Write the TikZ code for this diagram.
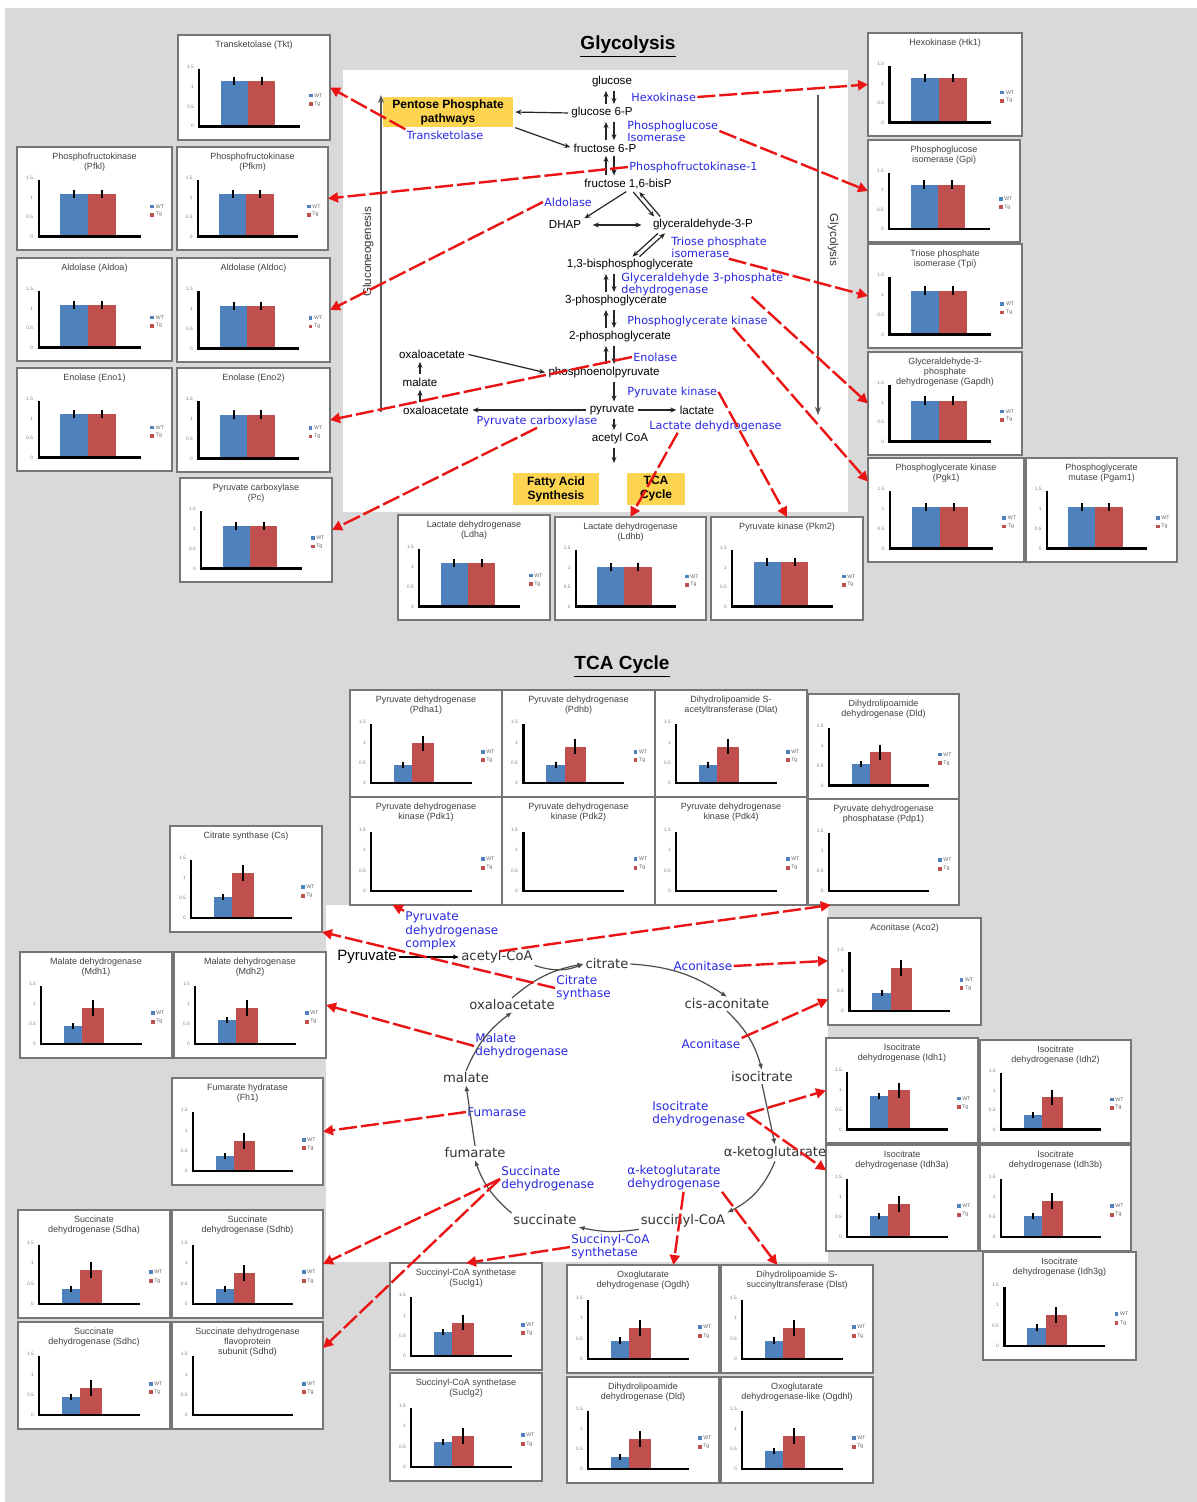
\documentclass[tikz,border=0pt]{standalone}
\usepackage{fontspec}
\setmainfont{Liberation Sans}
\newfontfamily\widefont{DejaVu Sans}
\usetikzlibrary{arrows.meta,calc}
\definecolor{bg}{RGB}{217,217,217}
\definecolor{frame}{RGB}{118,118,118}
\definecolor{enz}{RGB}{40,40,225}
\definecolor{hi}{RGB}{252,212,80}
\definecolor{wtb}{RGB}{79,129,189}
\definecolor{tgr}{RGB}{192,80,77}
\definecolor{link}{RGB}{235,20,20}

% bar layouts: glycolysis (wide, equal) and TCA (narrow)
\newcommand{\glystyle}{\def\barL{0.28}\def\barM{0.46}\def\barR{0.64}\def\errB{0.07}\def\errR{0.07}}
\newcommand{\tcastyle}{\def\barL{0.29}\def\barM{0.41}\def\barR{0.55}\def\errB{0.05}\def\errR{0.13}}
\newcommand{\nostyle}{\def\errB{0}\def\errR{0}}

% name, left, top, width, height, title, WT value, Tg value
\newcommand{\chart}[8]{%
  \pgfmathsetmacro{\chw}{#4*0.5}\pgfmathsetmacro{\chh}{#5*0.5}%
  \node[chartbox,minimum width=\chw pt,minimum height=\chh pt] (#1) at (#2,#3) {};
  \begin{scope}[shift={(#1.north west)},x=\chw pt,y=-\chh pt]
    \node[charttitle] at (0.5,0.05) {#6};
    \fill[wtb] (\barL,0.87) rectangle (\barM,{0.87-0.57*#7});
    \fill[tgr] (\barM,0.87) rectangle (\barR,{0.87-0.57*#8});
    \draw[errbar] ({(\barL+\barM)/2},{0.87-0.57*(#7+\errB)}) -- ++(0,{1.14*\errB});
    \draw[errbar] ({(\barM+\barR)/2},{0.87-0.57*(#8+\errR)}) -- ++(0,{1.14*\errR});
    \foreach \k/\lb in {0/0,1/0.5,2/1,3/1.5}
      \node[ticklab] at (0.11,{0.87-0.19*\k}) {\lb};
    \draw[axisline] (0.14,0.32) -- (0.14,0.87) -- (0.80,0.87);
    \fill[wtb] (0.86,0.56) rectangle ++(0.025,0.035);
    \fill[tgr] (0.86,0.64) rectangle ++(0.025,0.035);
    \node[legtext] at (0.89,0.575) {WT};
    \node[legtext] at (0.89,0.655) {Tg};
  \end{scope}}

\begin{document}
\begin{tikzpicture}[x=0.5pt,y=-0.5pt,
  chartbox/.style={draw=frame,line width=1.1pt,fill=white,inner sep=0pt,outer sep=0pt,anchor=north west},
  charttitle/.style={anchor=north,align=center,font=\fontsize{4.5}{5}\selectfont,text=black!75,inner sep=0pt},
  ticklab/.style={anchor=east,font=\fontsize{2.4}{2.7}\selectfont,text=black!50,inner sep=0.3pt},
  legtext/.style={anchor=west,font=\fontsize{2.6}{3}\selectfont,text=black!60,inner sep=0.3pt},
  errbar/.style={line width=1pt,black},
  axisline/.style={line width=1.2pt,black},
  heading/.style={font=\bfseries\fontsize{9.5}{11}\selectfont},
  metab/.style={font=\fontsize{5.8}{6.5}\selectfont,inner sep=0.6pt},
  tmetab/.style={font=\widefont\fontsize{6.6}{7.5}\selectfont,text=black!80,inner sep=0.8pt},
  enzyme/.style={font=\widefont\fontsize{5.6}{6}\selectfont,text=enz,inner sep=0.5pt,align=left},
  tenzyme/.style={enzyme,font=\widefont\fontsize{6}{6.6}\selectfont},
  hibox/.style={fill=hi,font=\bfseries\fontsize{6}{7}\selectfont,align=center,inner sep=1pt},
  blk/.style={-{Stealth[length=3pt,width=2.5pt]},line width=0.6pt,black!85,shorten >=1pt,shorten <=1pt},
  tblk/.style={-{Latex[length=3pt,width=2.5pt]},line width=0.6pt,black!70},
  sidearr/.style={-{Stealth[length=4pt]},line width=0.8pt,black!65},
  redlink/.style={draw=link,line width=1.2pt,dash pattern=on 9pt off 2pt,-{Triangle[length=5pt,width=5pt]}}]

  \useasboundingbox (0,0) rectangle (1197,1502);
  \fill[white] (0,0) rectangle (1197,1502);
  \fill[bg] (5,8) rectangle (1197,1502);
  \fill[white] (343,70) rectangle (848,512);
  \fill[white] (326,905) rectangle (828,1262);

  \node[heading] (tglyc) at (628,47) {\underline{Glycolysis}};
  \node[heading] (ttca) at (622,667) {\underline{TCA Cycle}};

  % glycolysis charts
  \glystyle
  \chart{gT}{178}{35}{152}{105}{Transketolase (Tkt)}{0.76}{0.76}
  \chart{gL2a}{17}{147}{155}{103}{Phosphofructokinase\\(Pfkl)}{0.72}{0.72}
  \chart{gL2b}{177}{147}{151}{103}{Phosphofructokinase\\(Pfkm)}{0.72}{0.72}
  \chart{gL3a}{17}{258}{155}{103}{Aldolase (Aldoa)}{0.72}{0.72}
  \chart{gL3b}{177}{258}{153}{104}{Aldolase (Aldoc)}{0.72}{0.72}
  \chart{gL4a}{17}{368}{155}{103}{Enolase (Eno1)}{0.74}{0.74}
  \chart{gL4b}{177}{368}{153}{104}{Enolase (Eno2)}{0.74}{0.74}
  \chart{gL5}{180}{478}{152}{104}{Pyruvate carboxylase\\(Pc)}{0.72}{0.72}
  \chart{gR1}{868}{33}{154}{103}{Hexokinase (Hk1)}{0.76}{0.76}
  \chart{gR2}{868}{140}{152}{102}{Phosphoglucose\\isomerase (Gpi)}{0.76}{0.76}
  \chart{gR3}{868}{244}{154}{104}{Triose phosphate\\isomerase (Tpi)}{0.74}{0.74}
  \chart{gR4}{868}{352}{154}{103}{Glyceraldehyde-3-\\phosphate\\dehydrogenase (Gapdh)}{0.7}{0.7}
  \chart{gR5}{868}{458}{156}{104}{Phosphoglycerate kinase\\(Pgk1)}{0.7}{0.7}
  \chart{gR6}{1026}{458}{151}{104}{Phosphoglycerate\\mutase (Pgam1)}{0.7}{0.7}
  \chart{gB1}{398}{515}{152}{105}{Lactate dehydrogenase\\(Ldha)}{0.72}{0.72}
  \chart{gB2}{555}{517}{151}{103}{Lactate dehydrogenase\\(Ldhb)}{0.68}{0.68}
  \chart{gB3}{711}{517}{152}{103}{Pyruvate kinase (Pkm2)}{0.76}{0.76}

  % TCA charts
  \tcastyle
  \chart{tG11}{350}{690}{152}{107}{Pyruvate dehydrogenase\\(Pdha1)}{0.3}{0.65}
  \chart{tG12}{502}{690}{153}{107}{Pyruvate dehydrogenase\\(Pdhb)}{0.3}{0.6}
  \chart{tG13}{655}{690}{152}{107}{Dihydrolipoamide S-\\acetyltransferase (Dlat)}{0.3}{0.6}
  \chart{tG14}{808}{694}{151}{105}{Dihydrolipoamide\\dehydrogenase (Dld)}{0.35}{0.55}
  \chart{tL1}{170}{826}{152}{106}{Citrate synthase (Cs)}{0.35}{0.75}
  \chart{tL2a}{20}{952}{152}{106}{Malate dehydrogenase\\(Mdh1)}{0.3}{0.6}
  \chart{tL2b}{174}{952}{152}{106}{Malate dehydrogenase\\(Mdh2)}{0.4}{0.6}
  \chart{tL3}{172}{1078}{151}{107}{Fumarate hydratase\\(Fh1)}{0.25}{0.5}
  \chart{tL4a}{18}{1210}{152}{108}{Succinate\\dehydrogenase (Sdha)}{0.25}{0.55}
  \chart{tL4b}{172}{1210}{151}{108}{Succinate\\dehydrogenase (Sdhb)}{0.25}{0.5}
  \chart{tL5a}{18}{1322}{152}{107}{Succinate\\dehydrogenase (Sdhc)}{0.3}{0.45}
  \chart{tR1}{828}{918}{153}{107}{Aconitase (Aco2)}{0.3}{0.7}
  \chart{tR2a}{826}{1038}{152}{105}{Isocitrate\\dehydrogenase (Idh1)}{0.55}{0.65}
  \chart{tR2b}{980}{1040}{151}{103}{Isocitrate\\dehydrogenase (Idh2)}{0.25}{0.55}
  \chart{tR3a}{826}{1145}{152}{106}{Isocitrate\\dehydrogenase (Idh3a)}{0.35}{0.55}
  \chart{tR3b}{980}{1145}{151}{106}{Isocitrate\\dehydrogenase (Idh3b)}{0.35}{0.6}
  \chart{tR4}{983}{1252}{153}{108}{Isocitrate\\dehydrogenase (Idh3g)}{0.3}{0.5}
  \chart{tB1a}{390}{1263}{152}{107}{Succinyl-CoA synthetase\\(Suclg1)}{0.4}{0.55}
  \chart{tB1b}{390}{1373}{152}{108}{Succinyl-CoA synthetase\\(Suclg2)}{0.4}{0.5}
  \chart{tB2a}{567}{1265}{152}{108}{Oxoglutarate\\dehydrogenase (Ogdh)}{0.3}{0.5}
  \chart{tB2b}{721}{1265}{152}{108}{Dihydrolipoamide S-\\succinyltransferase (Dlst)}{0.3}{0.5}
  \chart{tB3a}{567}{1377}{152}{106}{Dihydrolipoamide\\dehydrogenase (Dld)}{0.2}{0.5}
  \chart{tB3b}{721}{1377}{152}{106}{Oxoglutarate\\dehydrogenase-like (Ogdhl)}{0.3}{0.55}
  \nostyle
  \chart{tG21}{350}{797}{152}{108}{Pyruvate dehydrogenase\\kinase (Pdk1)}{0}{0}
  \chart{tG22}{502}{797}{153}{108}{Pyruvate dehydrogenase\\kinase (Pdk2)}{0}{0}
  \chart{tG23}{655}{797}{152}{108}{Pyruvate dehydrogenase\\kinase (Pdk4)}{0}{0}
  \chart{tG24}{808}{799}{151}{106}{Pyruvate dehydrogenase\\phosphatase (Pdp1)}{0}{0}
  \chart{tL5b}{172}{1322}{151}{107}{Succinate dehydrogenase\\flavoprotein\\subunit (Sdhd)}{0}{0}

  % glycolysis pathway
  \node[metab] (glc) at (612,82) {glucose};
  \node[metab] (g6p) at (602,113) {glucose 6-P};
  \node[metab] (f6p) at (605,148) {fructose 6-P};
  \node[metab] (fbp) at (628,184) {fructose 1,6-bisP};
  \node[metab] (dhap) at (565,225) {DHAP};
  \node[metab] (gap) at (703,225) {glyceraldehyde-3-P};
  \node[metab] (bpg) at (630,265) {1,3-bisphosphoglycerate};
  \node[metab] (pg3) at (616,301) {3-phosphoglycerate};
  \node[metab] (pg2) at (620,337) {2-phosphoglycerate};
  \node[metab] (pep) at (604,373) {phosphoenolpyruvate};
  \node[metab] (pyr) at (612,410) {pyruvate};
  \node[metab] (lac) at (697,410) {lactate};
  \node[metab] (aca) at (620,439) {acetyl CoA};
  \node[metab] (oaa1) at (432,354) {oxaloacetate};
  \node[metab] (mal) at (420,382) {malate};
  \node[metab] (oaa2) at (436,410) {oxaloacetate};
  \node[hibox,minimum width=65pt,minimum height=12.5pt] (ppp) at (448,112) {Pentose Phosphate\\pathways};
  \node[hibox,minimum width=43pt,minimum height=16pt] (fas) at (556,489) {Fatty Acid\\Synthesis};
  \node[hibox,minimum width=29pt,minimum height=16pt] (tcab) at (656,489) {TCA\\Cycle};

  \node[enzyme,anchor=west] (hk) at (630,97) {Hexokinase};
  \node[enzyme,anchor=west] (pgi) at (626,131) {Phosphoglucose\\Isomerase};
  \node[enzyme,anchor=west] (pfk) at (628,167) {Phosphofructokinase-1};
  \node[enzyme] (tkt) at (445,135) {Transketolase};
  \node[enzyme] (ald) at (568,202) {Aldolase};
  \node[enzyme,anchor=west] (tpi) at (670,247) {Triose phosphate\\isomerase};
  \node[enzyme,anchor=west] (gapdh) at (620,284) {Glyceraldehyde 3-phosphate\\dehydrogenase};
  \node[enzyme,anchor=west] (pgk) at (626,321) {Phosphoglycerate kinase};
  \node[enzyme,anchor=west] (eno) at (632,357) {Enolase};
  \node[enzyme,anchor=west] (pk) at (626,392) {Pyruvate kinase};
  \node[enzyme] (pc) at (537,421) {Pyruvate carboxylase};
  \node[enzyme,anchor=west] (ldh) at (648,426) {Lactate dehydrogenase};

  \node[metab,rotate=90,text=black!80] (gneo) at (368,252) {Gluconeogenesis};
  \node[metab,rotate=-90,text=black!80] (glyl) at (833,240) {Glycolysis};
  \coordinate (gnlo) at (381,412);
  \coordinate (gnhi) at (381,95);
  \coordinate (gyhi) at (818,95);
  \coordinate (gylo) at (818,415);
  \draw[sidearr] (gnlo) -- (gnhi);
  \draw[sidearr] (gyhi) -- (gylo);

  \coordinate (upx) at (606,0);
  \coordinate (dnx) at (614,0);
  \foreach \a/\b in {glc/g6p,g6p/f6p,f6p/fbp,bpg/pg3,pg3/pg2,pg2/pep}{
    \draw[blk] (\b.north -| upx) -- (\a.south -| upx);
    \draw[blk] (\a.south -| dnx) -- (\b.north -| dnx);
  }
  \coordinate (acend) at (614,465);
  \draw[blk] (pep.south -| dnx) -- (pyr.north -| dnx);
  \draw[blk] (pyr.south -| dnx) -- (aca.north -| dnx);
  \draw[blk] (aca.south -| dnx) -- (acend);
  \draw[blk] (g6p.west) -- (ppp.east);
  \draw[blk] (ppp.south east) -- (f6p.west);
  \draw[blk] (fbp.south) -- (dhap.north east);
  \draw[blk] ($(fbp.south)+(4,0)$) -- ($(gap.north west)+(4,0)$);
  \draw[blk] ($(gap.north west)+(10,0)$) -- ($(fbp.south)+(10,0)$);
  \draw[blk,{Stealth[length=3pt,width=2.5pt]}-{Stealth[length=3pt,width=2.5pt]},shorten <=5pt,shorten >=5pt] (dhap.east) -- (gap.west);
  \draw[blk] ($(gap.south west)+(8,0)$) -- ($(bpg.north)+(1,0)$);
  \draw[blk] ($(bpg.north)+(8,0)$) -- ($(gap.south west)+(15,0)$);
  \draw[blk] (pyr.east) -- (lac.west);
  \draw[blk] (pyr.west) -- (oaa2.east);
  \draw[blk] (oaa1.east) -- (pep.west);
  \draw[blk] (oaa2.north -| mal.south) -- (mal.south);
  \draw[blk] (mal.north) -- (oaa1.south -| mal.north);

  % TCA pathway
  \node[tmetab,text=black,font=\fontsize{7.5}{8}\selectfont] (tpyr) at (367,957) {Pyruvate};
  \node[tmetab] (tacoa) at (497,957) {acetyl-CoA};
  \node[tmetab] (cit) at (607,964) {citrate};
  \node[tmetab] (cis) at (727,1004) {cis-aconitate};
  \node[tmetab] (iso) at (762,1077) {isocitrate};
  \node[tmetab] (akg) at (775,1153) {α-ketoglutarate};
  \node[tmetab] (sca) at (683,1221) {succinyl-CoA};
  \node[tmetab] (suc) at (545,1220) {succinate};
  \node[tmetab] (fum) at (475,1153) {fumarate};
  \node[tmetab] (tmal) at (466,1078) {malate};
  \node[tmetab] (toaa) at (512,1005) {oxaloacetate};

  \node[tenzyme,anchor=west] (pdh) at (404,931) {Pyruvate\\dehydrogenase\\complex};
  \node[tenzyme,anchor=west] (cs) at (555,988) {Citrate\\synthase};
  \node[tenzyme] (acn1) at (703,966) {Aconitase};
  \node[tenzyme] (acn2) at (711,1044) {Aconitase};
  \node[tenzyme,anchor=west] (idh) at (651,1114) {Isocitrate\\dehydrogenase};
  \node[tenzyme,anchor=west] (ogdh) at (626,1178) {α-ketoglutarate\\dehydrogenase};
  \node[tenzyme,anchor=west] (scs) at (570,1247) {Succinyl-CoA\\synthetase};
  \node[tenzyme,anchor=west] (sdh) at (500,1179) {Succinate\\dehydrogenase};
  \node[tenzyme,anchor=west] (fh) at (466,1112) {Fumarase};
  \node[tenzyme,anchor=west] (mdh) at (474,1046) {Malate\\dehydrogenase};

  \draw[tblk,line width=1pt,black] (tpyr.east) -- (tacoa.west);
  \draw[tblk] (tacoa.south east) to[bend right=20] (cit.west);
  \draw[tblk] (toaa.north) to[bend left=15] (cit.west);
  \draw[tblk] (cit.east) to[bend left=15] (cis.north);
  \draw[tblk] (cis.south) to[bend left=15] (iso.north);
  \draw[tblk] (iso.south) -- (akg.north);
  \draw[tblk] (akg.south) to[bend left=20] (sca.north east);
  \draw[tblk] (sca.south west) to[bend left=10] (suc.south east);
  \draw[tblk] (suc.north west) to[bend left=15] (fum.south);
  \draw[tblk] (fum.north) -- (tmal.south);
  \draw[tblk] (tmal.north) to[bend left=15] (toaa.south);

  % enzyme -> expression charts
  \draw[redlink] (hk.east) -- (gR1.west);
  \draw[redlink] (pgi.east) -- (gR2.west);
  \draw[redlink] (pfk.west) -- (gL2b.east);
  \draw[redlink] (tkt.north west) -- (gT.east);
  \draw[redlink] (ald.west) -- (gL3b.east);
  \draw[redlink] (eno.west) -- (gL4b.east);
  \draw[redlink] (pc.south) -- (gL5.east);
  \draw[redlink] ($(tpi.south west)!0.6!(tpi.south east)$) -- (gR3.west);
  \draw[redlink] ($(gapdh.south west)!0.8!(gapdh.south east)$) -- (gR4.west);
  \draw[redlink] ($(pgk.south west)!0.75!(pgk.south east)$) -- (gR5.160);
  \draw[redlink] (pk.east) -- (gB3.north);
  \draw[redlink] ($(ldh.south west)!0.22!(ldh.south east)$) -- (gB2.north);

  \draw[redlink] (pdh.north west) -- ($(tG21.south west)!0.28!(tG21.south east)$);
  \draw[redlink] (pdh.south east) -- ($(tG24.south west)!0.15!(tG24.south east)$);
  \draw[redlink] (cs.west) -- (tL1.south east);
  \draw[redlink] (mdh.west) -- (tL2b.east);
  \draw[redlink] (acn1.east) -- (tR1.172);
  \draw[redlink] (acn2.north east) -- (tR1.200);
  \draw[redlink] (idh.east) -- (tR2a.west);
  \draw[redlink] (idh.east) -- (tR3a.160);
  \draw[redlink] (fh.west) -- (tL3.east);
  \draw[redlink] (sdh.west) -- (tL4b.east);
  \draw[redlink] (sdh.west) -- (tL5b.20);
  \draw[redlink] (scs.west) -- (tB1a.north);
  \draw[redlink] ($(ogdh.south west)!0.6!(ogdh.south east)$) -- ($(tB2a.north west)!0.7!(tB2a.north east)$);
  \draw[redlink] (ogdh.south east) -- ($(tB2b.north west)!0.37!(tB2b.north east)$);
\end{tikzpicture}
\end{document}
